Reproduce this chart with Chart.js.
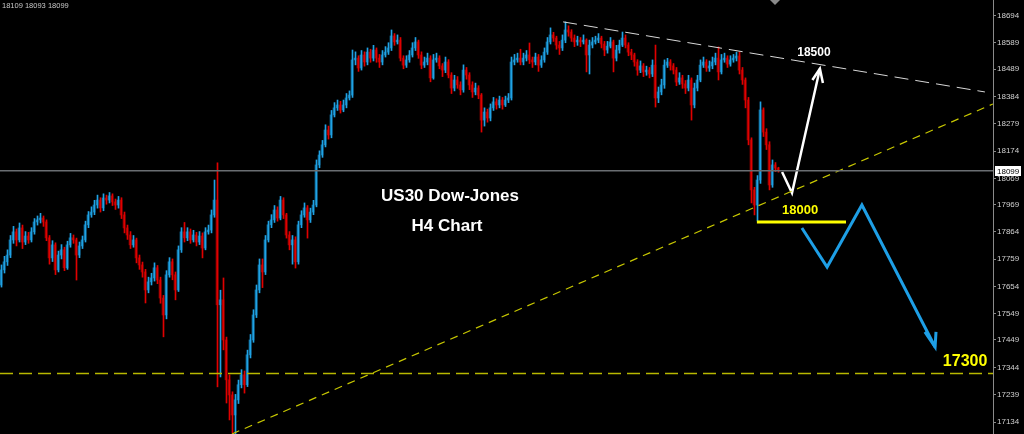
<!DOCTYPE html>
<html>
<head>
<meta charset="utf-8">
<script src="https://cdn.jsdelivr.net/npm/chart.js@4.4.1/dist/chart.umd.min.js"></script>
<style>
  html, body { margin: 0; padding: 0; background: #000; overflow: hidden; }
  #wrap { width: 1024px; height: 434px; }
</style>
</head>
<body>
<div id="wrap"><canvas id="myChart" width="1024" height="434"></canvas></div>
<script>
// H4 candles
const opens = [
  17660,17718,17749,17775,17833,17864,17833,17879,17825,17848,
  17833,17864,17902,17910,17917,17902,17841,17764,17814,17718,
  17775,17795,17726,17814,17841,17833,17775,17810,17833,17891,
  17929,17940,17967,17986,17956,17994,17986,18002,17979,17967,
  17986,17929,17879,17852,17814,17833,17764,17737,17710,17641,
  17672,17687,17726,17679,17610,17545,17699,17749,17699,17641,
  17795,17864,17841,17864,17833,17852,17825,17848,17802,17864,
  17871,17929,17986,17584,17603,17449,17296,17238,17161,17219,
  17277,17315,17277,17392,17449,17545,17641,17737,17710,17833,
  17891,17910,17948,17917,17986,17929,17852,17814,17833,17749,
  17891,17929,17956,17910,17940,17967,18121,18159,18198,18255,
  18236,18313,18340,18351,18332,18351,18378,18389,18524,18531,
  18493,18543,18516,18554,18531,18562,18531,18516,18543,18554,
  18570,18616,18593,18600,18531,18504,18524,18543,18570,18593,
  18543,18504,18516,18531,18455,18524,18531,18501,18485,18516,
  18466,18416,18447,18428,18409,18485,18466,18428,18401,18416,
  18389,18293,18324,18301,18340,18363,18351,18370,18351,18370,
  18378,18516,18524,18531,18516,18531,18543,18524,18516,18535,
  18504,18524,18554,18593,18620,18608,18581,18570,18600,18639,
  18631,18608,18593,18600,18593,18600,18543,18581,18593,18600,
  18608,18585,18562,18577,18593,18531,18562,18581,18608,18581,
  18554,18543,18516,18485,18501,18478,18485,18470,18504,18378,
  18401,18428,18504,18516,18501,18485,18439,18455,18432,18416,
  18447,18351,18416,18447,18504,18516,18493,18501,18516,18531,
  18478,18524,18531,18508,18524,18531,18539,18485,18447,18370,
  18217,18025,17967,18063,18332,18247,18198,18044,18121,18109
];
const highs = [
  17737,17770,17795,17850,17885,17875,17898,17890,17865,17862,
  17880,17915,17925,17935,17925,17910,17850,17830,17822,17790,
  17815,17805,17828,17858,17852,17840,17825,17848,17905,17942,
  17960,17985,18005,17995,18010,18005,18015,18010,17990,18000,
  17995,17940,17890,17865,17850,17840,17775,17748,17720,17690,
  17705,17745,17735,17690,17620,17715,17765,17760,17710,17810,
  17880,17900,17880,17875,17870,17862,17865,17860,17880,17890,
  17948,18063,18129,17640,17687,17460,17315,17250,17240,17295,
  17335,17330,17410,17470,17565,17660,17760,17760,17850,17905,
  17930,17965,17960,18000,17995,17935,17865,17850,17845,17905,
  17945,17975,17965,17955,17985,18140,18175,18215,18275,18270,
  18330,18360,18370,18365,18370,18395,18405,18562,18555,18540,
  18560,18555,18570,18565,18580,18570,18545,18560,18575,18590,
  18639,18625,18620,18610,18540,18540,18560,18590,18610,18600,
  18555,18535,18550,18540,18545,18550,18540,18510,18535,18525,
  18475,18465,18460,18440,18505,18495,18475,18440,18435,18425,
  18395,18340,18335,18355,18380,18375,18385,18380,18385,18395,
  18535,18545,18550,18565,18550,18560,18589,18535,18550,18545,
  18540,18570,18610,18647,18630,18615,18595,18620,18670,18655,
  18640,18620,18615,18610,18620,18605,18600,18610,18615,18625,
  18615,18595,18595,18610,18600,18580,18600,18631,18620,18590,
  18565,18550,18525,18520,18510,18500,18495,18524,18581,18420,
  18450,18524,18530,18525,18510,18495,18475,18465,18445,18465,
  18455,18435,18465,18524,18535,18525,18520,18535,18550,18574,
  18545,18550,18540,18540,18545,18554,18554,18495,18455,18380,
  18225,18035,18080,18363,18340,18260,18210,18140,18130,18112
];
const lows = [
  17652,17706,17735,17765,17820,17810,17825,17800,17815,17820,
  17825,17855,17890,17898,17885,17830,17740,17750,17700,17710,
  17760,17715,17720,17805,17820,17679,17765,17800,17825,17880,
  17920,17930,17955,17940,17945,17970,17975,17965,17950,17955,
  17915,17860,17835,17800,17805,17745,17720,17690,17591,17630,
  17660,17675,17665,17590,17461,17530,17690,17680,17603,17635,
  17785,17825,17830,17820,17825,17810,17815,17764,17795,17855,
  17860,17920,17269,17307,17411,17207,17142,17092,17088,17205,
  17265,17245,17270,17380,17440,17535,17630,17650,17700,17825,
  17880,17900,17905,17910,17915,17840,17795,17740,17725,17740,
  17880,17920,17840,17900,17930,17960,18110,18150,18190,18220,
  18225,18305,18330,18320,18325,18340,18370,18380,18505,18480,
  18485,18500,18505,18515,18520,18515,18495,18505,18535,18545,
  18560,18580,18585,18520,18490,18495,18515,18535,18560,18530,
  18490,18495,18505,18440,18450,18515,18490,18460,18475,18455,
  18395,18405,18415,18390,18400,18450,18410,18380,18390,18375,
  18247,18270,18285,18290,18330,18335,18340,18335,18345,18360,
  18370,18505,18515,18505,18505,18520,18510,18495,18505,18480,
  18495,18515,18545,18585,18595,18565,18545,18560,18590,18615,
  18595,18575,18580,18575,18585,18478,18470,18570,18585,18590,
  18570,18540,18550,18570,18478,18520,18550,18575,18570,18540,
  18525,18500,18465,18475,18460,18465,18455,18460,18343,18360,
  18390,18415,18495,18485,18470,18425,18430,18415,18395,18405,
  18293,18340,18405,18440,18495,18480,18480,18490,18505,18447,
  18470,18515,18495,18500,18515,18520,18470,18430,18340,18198,
  17975,17929,17906,18050,18230,18180,18025,18035,18095,18093
];
const closes = [
  17718,17749,17775,17833,17864,17833,17879,17825,17848,17833,
  17864,17902,17910,17917,17902,17841,17764,17814,17718,17775,
  17795,17726,17814,17841,17833,17775,17810,17833,17891,17929,
  17940,17967,17986,17956,17994,17986,18002,17979,17967,17986,
  17929,17879,17852,17814,17833,17764,17737,17710,17641,17672,
  17687,17726,17679,17610,17545,17699,17749,17699,17641,17795,
  17864,17841,17864,17833,17852,17825,17848,17802,17864,17871,
  17929,17986,17584,17603,17449,17296,17238,17161,17219,17277,
  17315,17277,17392,17449,17545,17641,17737,17710,17833,17891,
  17910,17948,17917,17986,17929,17852,17814,17833,17749,17891,
  17929,17956,17910,17940,17967,18121,18159,18198,18255,18236,
  18313,18340,18351,18332,18351,18378,18389,18524,18531,18493,
  18543,18516,18554,18531,18562,18531,18516,18543,18554,18570,
  18616,18593,18600,18531,18504,18524,18543,18570,18593,18543,
  18504,18516,18531,18455,18524,18531,18501,18485,18516,18466,
  18416,18447,18428,18409,18485,18466,18428,18401,18416,18389,
  18293,18324,18301,18340,18363,18351,18370,18351,18370,18378,
  18516,18524,18531,18516,18531,18543,18524,18516,18535,18504,
  18524,18554,18593,18620,18608,18581,18570,18600,18639,18631,
  18608,18593,18600,18593,18600,18543,18581,18593,18600,18608,
  18585,18562,18577,18593,18531,18562,18581,18608,18581,18554,
  18543,18516,18485,18501,18478,18485,18470,18504,18378,18401,
  18428,18504,18516,18501,18485,18439,18455,18432,18416,18447,
  18351,18416,18447,18504,18516,18493,18501,18516,18531,18478,
  18524,18531,18508,18524,18531,18539,18485,18447,18370,18217,
  18025,17967,18063,18332,18247,18198,18044,18121,18109,18099
];

const yTicks = [18694,18589,18489,18384,18279,18174,18069,17969,17864,17759,17654,17549,17449,17344,17239,17134];
const priceMin = 17088;
const priceMax = 18754;
const barSlots = 331;          // bar slots visible incl. empty shift area
const lastPrice = 18099;
const infoText = "18109 18093 18099";

// drawn objects: [bar index, price]
const resistLine = [[187.2, 18670], [327.8, 18401]];
const supportLine = [[76.8, 17088], [330.5, 18355]];
const targetLevel = 17320;
const level18000 = [[251.8, 17902], [281.5, 17902]];
const upPath = [[260.2, 18094], [263.5, 18013], [272.8, 18490]];
const upHead = [[270.3, 18447], [272.8, 18490], [273.8, 18435]];
const downPath = [[266.8, 17879], [275.2, 17729], [286.8, 17967], [311.2, 17422]];
const downHead = [[307.8, 17480], [311.2, 17422], [311.5, 17480]];
const notes = [
  { text: "18500", at: [270.8, 18551], color: "#ffffff", size: 12 },
  { text: "18000", at: [266.2, 17948], color: "#ffff00", size: 13 },
  { text: "17300", at: [321.2, 17365], color: "#ffff00", size: 16 }
];

const UP_WICK = "#20a2e4", UP_BODY = "#1170a0";
const DN_WICK = "#e00000", DN_BODY = "#960000";

function pts(arr) {
  return arr.map(p => ({ x: p[0], y: p[1] }));
}
function isUp(i) {
  return closes[i] >= opens[i];
}
function lineSet(data, color, width, dash) {
  return {
    type: "line",
    xAxisID: "x",
    data: pts(data),
    borderColor: color,
    borderWidth: width,
    borderDash: dash || [],
    pointRadius: 0,
    fill: false,
    tension: 0,
    order: 0,
  };
}

const overlay = {
  id: "overlay",
  afterDatasetsDraw(chart) {
    const ctx = chart.ctx;
    const xs = chart.scales.x;
    const ys = chart.scales.y;
    ctx.save();
    ctx.textBaseline = "middle";

    notes.forEach(n => {
      ctx.font = "bold " + n.size + "px 'Liberation Sans', Arial, sans-serif";
      ctx.fillStyle = n.color;
      ctx.textAlign = "center";
      ctx.fillText(n.text, xs.getPixelForValue(n.at[0]), ys.getPixelForValue(n.at[1]));
    });

    ctx.font = "bold 17px 'Liberation Sans', Arial, sans-serif";
    ctx.fillStyle = "#ffffff";
    ctx.textAlign = "center";
    ctx.fillText("US30 Dow-Jones", 450, 196);
    ctx.fillText("H4 Chart", 447, 226);

    ctx.font = "7.5px 'Liberation Sans', Arial, sans-serif";
    ctx.fillStyle = "#c8c8c8";
    ctx.textAlign = "left";
    ctx.fillText(infoText, 2, 6);

    // price box on the axis
    const py = Math.round(ys.getPixelForValue(lastPrice));
    ctx.font = "8px 'Liberation Sans', Arial, sans-serif";
    ctx.fillStyle = "#ffffff";
    ctx.fillRect(995, py - 5, 26, 10);
    ctx.fillStyle = "#000000";
    ctx.fillText(String(lastPrice), 997, py + 0.5);

    // chart shift marker
    ctx.fillStyle = "#8a8a8a";
    ctx.beginPath();
    ctx.moveTo(770, 0);
    ctx.lineTo(780, 0);
    ctx.lineTo(775, 5);
    ctx.closePath();
    ctx.fill();
    ctx.restore();
  }
};

const myChart = document.querySelector("#myChart").getContext("2d");

let candleChart = new Chart(myChart, {
  type: "bar",
  data: {
    datasets: [
      lineSet([[-0.5, lastPrice], [barSlots - 0.5, lastPrice]], "#6a6e72", 1.5),
      lineSet([[-0.5, targetLevel], [barSlots - 0.5, targetLevel]], "#b8b800", 1.5, [13, 6]),
      lineSet(supportLine, "#c8c800", 1.2, [8, 6]),
      lineSet(resistLine, "#d8d8d8", 1, [14, 7]),
      lineSet(level18000, "#ffff00", 3),
      lineSet(upPath, "#ffffff", 2.5),
      lineSet(upHead, "#ffffff", 2.5),
      lineSet(downPath, "#1e9fe6", 3),
      lineSet(downHead, "#1e9fe6", 3),
      {
        type: "bar",
        xAxisID: "x",
        data: closes.map((c, i) => ({ x: i, y: [lows[i], highs[i]] })),
        backgroundColor: ctx => (isUp(ctx.dataIndex) ? UP_WICK : DN_WICK),
        barThickness: 1,
        grouped: false,
        order: 1,
      },
      {
        type: "bar",
        xAxisID: "xb",
        data: closes.map((c, i) => ({ x: i, y: [opens[i], c] })),
        backgroundColor: ctx => (isUp(ctx.dataIndex) ? UP_BODY : DN_BODY),
        barThickness: 2,
        minBarLength: 1,
        grouped: false,
        order: 2,
      },
    ],
  },
  options: {
    responsive: false,
    animation: false,
    devicePixelRatio: 1,
    layout: { padding: 0 },
    plugins: { legend: { display: false }, tooltip: { enabled: false } },
    scales: {
      x: { type: "linear", min: -0.5, max: barSlots - 0.5, offset: false, display: false },
      xb: { type: "linear", min: -1 / 3, max: barSlots - 1 / 3, offset: false, display: false },
      y: {
        position: "right",
        min: priceMin,
        max: priceMax,
        beginAtZero: false,
        afterBuildTicks: s => { s.ticks = yTicks.map(v => ({ value: v })); },
        afterFit: s => { s.width = 31; s.paddingTop = 0; s.paddingBottom = 0; },
        ticks: {
          color: "#d0d0d0",
          font: { family: "'Liberation Sans', Arial, sans-serif", size: 8 },
          padding: 1,
          callback: v => String(v),
        },
        grid: { drawOnChartArea: false, color: "#8a8a8a", tickLength: 3 },
        border: { color: "#8a8a8a" },
      },
    },
  },
  plugins: [overlay],
});
</script>
</body>
</html>
